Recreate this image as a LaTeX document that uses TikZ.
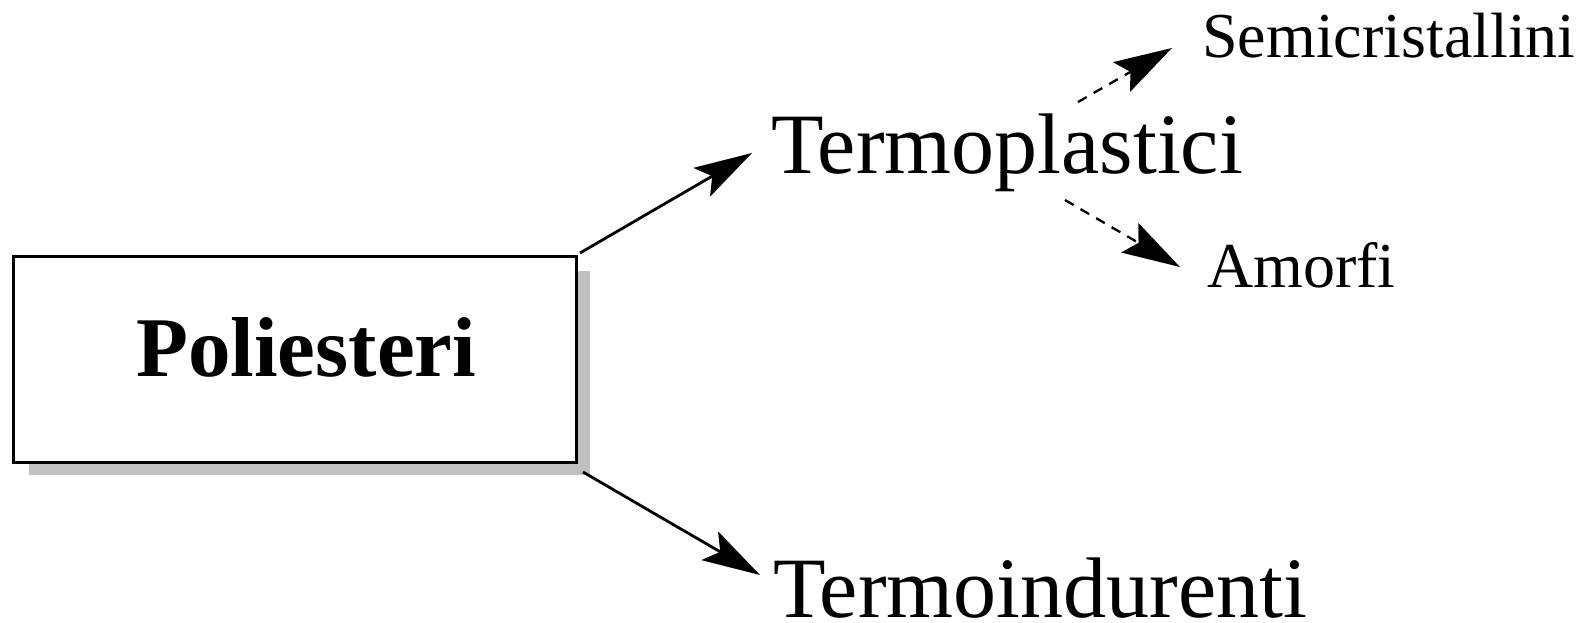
\documentclass[tikz,border=0pt]{standalone}
\usepackage{fontspec}
\setmainfont{Liberation Serif}
\usetikzlibrary{arrows.meta}
\begin{document}
\begin{tikzpicture}[x=1pt,y=-1pt,
  big/.style={inner sep=0pt,anchor=base west,font=\fontsize{86}{92}\selectfont},
  small/.style={inner sep=0pt,anchor=base west,font=\fontsize{64}{70}\selectfont},
  arr/.style={line width=2.8pt,-{Stealth[length=58pt,width=33pt,inset=12pt]}},
  darr/.style={line width=2.3pt,dash pattern=on 10pt off 8pt,-{Stealth[length=58pt,width=34pt,inset=10pt]}}]
\useasboundingbox (0,0) rectangle (1583,622);
% shadow and box
\fill[fill={rgb,255:red,192;green,192;blue,192}] (29,271) rectangle (590,475);
\node[draw,line width=3pt,fill=white,minimum width=563pt,minimum height=206pt,inner sep=0pt] (box) at (294.5,359) {};
\node[inner sep=0pt,anchor=base west,font=\bfseries\fontsize{85}{90}\selectfont] (pol) at (136,376) {Poliesteri};
% texts
\node[big] (tp) at (771,173) {Termoplastici};
\node[big] (ti) at (773,617) {Termoindurenti};
\node[small] (sc) at (1202,57) {Semicristallini};
\node[small] (am) at (1207,287) {Amorfi};
% connector ends
\coordinate (b1) at (580,253);
\coordinate (b2) at (583,472);
\coordinate (t1) at (752,153);
\coordinate (t2) at (760,575);
\coordinate (s0) at (1078,102);
\coordinate (s1) at (1172,48);
\coordinate (a0) at (1065,200);
\coordinate (a1) at (1180,267);
\draw[arr] (b1) -- (t1);
\draw[arr] (b2) -- (t2);
\draw[darr] (s0) -- (s1);
\draw[darr] (a0) -- (a1);
\end{tikzpicture}
\end{document}
